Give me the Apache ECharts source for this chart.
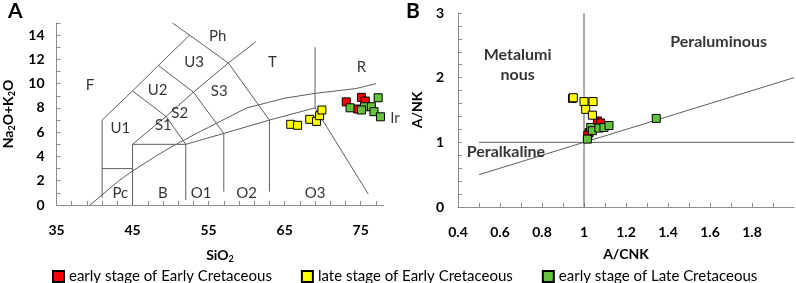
<!DOCTYPE html>
<html><head><meta charset="utf-8">
<script src="https://cdn.jsdelivr.net/npm/echarts@6/dist/echarts.min.js"></script>
<style>html,body{margin:0;padding:0;background:#fff}#c{width:796px;height:283px}</style>
</head><body><div id="c"></div>
<script>
// ---- Data ----
var groupNames = ['early stage of Early Cretaceous', 'late stage of Early Cretaceous', 'early stage of Late Cretaceous'];
// Chart A (TAS): [SiO2, Na2O+K2O]
var tasRed = [[73.1,8.5],[75.1,8.87],[75.6,8.57],[74.6,7.91]];
var tasYellow = [[65.8,6.65],[66.7,6.57],[68.3,7.06],[69.2,6.89],[69.6,7.36],[69.9,7.83]];
var tasGreen = [[73.6,8.01],[77.3,8.84],[75.5,8.1],[76.4,8.1],[76.75,7.69],[77.6,7.27],[75.1,7.83]];
// Chart B: [A/CNK, A/NK]
var acnkRed = [[1.064,1.33],[1.079,1.3],[1.024,1.15],[1.018,1.11]];
var acnkYellow = [[0.945,1.68],[0.949,1.69],[1.0,1.63],[1.043,1.63],[1.008,1.51],[1.04,1.42]];
var acnkGreen = [[1.032,1.23],[1.04,1.18],[1.071,1.22],[1.095,1.23],[1.119,1.26],[1.016,1.05],[1.344,1.37]];
// TAS field boundaries
var tasLines = [
  [[41,0.6],[41,7]],
  [[41,7],[45,9.4],[48.4,11.5],[52.5,14],[57.6,11.7],[63,7]],
  [[52.5,14],[50.25,15]],
  [[41,3],[45,3]],
  [[45,0],[45,5],[52,5],[52,0.4]],
  [[45,5],[49.4,7.3],[53,9.3],[57.6,11.7],[61.2,13.45]],
  [[45,9.4],[49.4,7.3],[52,5]],
  [[48.4,11.5],[53,9.3],[57,5.9]],
  [[52,5],[57,5.9],[63,7],[69,8]],
  [[57,1.1],[57,5.9]],
  [[63,1.1],[63,7]],
  [[69,8],[69,13]],
  [[69,8],[76,0.9]],
  [[39.4,0],[43.2,2],[45,2.8],[48,4],[50,4.75],[53.7,6],[55,6.4],[60,8],[65,8.8],[69,9.2],[74.4,9.6],[77,10]]
];
var tasFieldLabels = [['F',39.4,9.9],['Ph',56.2,13.9],['U3',53.1,11.8],['T',63.4,11.8],['R',75.1,11.4],['U2',48.3,9.45],['S3',56.4,9.35],['S2',51.2,7.55],['U1',43.4,6.3],['S1',49.05,6.6],['Ir',79.5,7.14],['Pc',43.4,1.0],['B',49.0,0.96],['O1',54.0,0.96],['O2',60.0,0.96],['O3',69.0,0.96]];
// Chart B boundaries
var acnkLines = [
  [[0.5,0.5],[2,2]],
  [[0.5,1],[2,1]],
  [[1,0],[1,3]]
];
var acnkFieldLabels = [['Metalumi',0.684,2.35],['nous',0.684,2.04],['Peraluminous',1.641,2.555],['Peralkaline',0.628,0.855]];

var colors = ['#ff0000','#ffff00','#66c23c'];
var FONT = 'Lato';
var lineGray = '#5e5e5e';
var axisGray = '#8c8c8c';

function lineSeries(lines, xi, yi){
  return lines.map(function(pts){
    return {type:'line', xAxisIndex:xi, yAxisIndex:yi, data:pts, symbol:'none', silent:true,
      lineStyle:{color:lineGray, width:1}, animation:false, z:1};
  });
}
function labelSeries(labels, xi, yi, size, weight){
  return {type:'scatter', xAxisIndex:xi, yAxisIndex:yi, symbolSize:0, silent:true, clip:false,
    data: labels.map(function(l){return {name:l[0], value:[l[1],l[2]]};}),
    label:{show:true, position:'inside', formatter:'{b}', color:'#000', fontFamily:FONT, fontSize:size, fontWeight:weight},
    animation:false, z:3};
}
function pointSeries(name, data, color, xi, yi){
  return {type:'scatter', name:name, xAxisIndex:xi, yAxisIndex:yi, data:data, symbol:'rect', symbolSize:8,
    itemStyle:{color:color, borderColor:'#000', borderWidth:1, opacity:1}, animation:false, z:5};
}
var tickLbl = {fontFamily:FONT, fontSize:14, fontWeight:'bold', color:'#000'};

var series = [].concat(
  lineSeries(tasLines,0,0),
  lineSeries(acnkLines,1,1),
  [labelSeries(tasFieldLabels,0,0,15,'normal'),
   labelSeries(acnkFieldLabels,1,1,16,'bold'),
   pointSeries(groupNames[0], tasRed, colors[0],0,0),
   pointSeries(groupNames[1], tasYellow, colors[1],0,0),
   pointSeries(groupNames[2], tasGreen, colors[2],0,0),
   pointSeries(groupNames[0], acnkRed, colors[0],1,1),
   pointSeries(groupNames[1], acnkYellow, colors[1],1,1),
   pointSeries(groupNames[2], acnkGreen, colors[2],1,1)]
);

var chart = echarts.init(document.getElementById('c'), null, {renderer:'canvas'});
chart.setOption({
  animation:false,
  backgroundColor:'#fff',
  grid:[
    {left:55, top:23, width:328.5, height:182},
    {left:458, top:13, width:336, height:194}
  ],
  xAxis:[
    {type:'value', gridIndex:0, min:35, max:78, interval:2,
     axisLine:{lineStyle:{color:axisGray}}, axisTick:{inside:true, length:4, lineStyle:{color:axisGray}},
     splitLine:{show:false},
     axisLabel:Object.assign({margin:18, showMaxLabel:false, formatter:function(v){return ((v-35)%10===0)?String(v):'';}}, tickLbl),
     name:'SiO{s|2}', nameLocation:'middle', nameGap:42,
     nameTextStyle:{fontFamily:FONT, fontSize:14, fontWeight:'bold', color:'#000', rich:{s:{fontFamily:FONT, fontSize:9, fontWeight:'bold', verticalAlign:'bottom', padding:[8,0,0,0]}}}},
    {type:'value', gridIndex:1, min:0.4, max:2, interval:0.1,
     axisLine:{lineStyle:{color:axisGray}}, axisTick:{inside:true, length:4, lineStyle:{color:axisGray}},
     splitLine:{show:false},
     axisLabel:Object.assign({margin:18, showMaxLabel:false, formatter:function(v){var r=Math.round(v*10); return (r%2===0 && r<20)?String(r/10):'';}}, tickLbl),
     name:'A/CNK', nameLocation:'middle', nameGap:40,
     nameTextStyle:{fontFamily:FONT, fontSize:14, fontWeight:'bold', color:'#000'}}
  ],
  yAxis:[
    {type:'value', gridIndex:0, min:0, max:15, interval:1,
     axisLine:{show:true, lineStyle:{color:axisGray}}, axisTick:{show:true, inside:true, length:4, lineStyle:{color:axisGray}},
     splitLine:{show:false},
     axisLabel:Object.assign({margin:12, formatter:function(v){return (v%2===0 && v<15)?String(v):'';}}, tickLbl),
     name:'Na{s|2}O+K{s|2}O', nameLocation:'middle', nameGap:40, nameRotate:90,
     nameTextStyle:{fontFamily:FONT, fontSize:14, fontWeight:'bold', color:'#000', rich:{s:{fontFamily:FONT, fontSize:9, fontWeight:'bold', verticalAlign:'bottom', padding:[8,0,0,0]}}}},
    {type:'value', gridIndex:1, min:0, max:3, interval:0.2,
     axisLine:{show:true, lineStyle:{color:axisGray}}, axisTick:{show:true, inside:true, length:4, lineStyle:{color:axisGray}},
     splitLine:{show:false},
     axisLabel:Object.assign({margin:14, formatter:function(v){var r=Math.round(v*10); return (r%10===0)?String(r/10):'';}}, tickLbl),
     name:'A/NK', nameLocation:'middle', nameGap:34, nameRotate:90,
     nameTextStyle:{fontFamily:FONT, fontSize:14, fontWeight:'bold', color:'#000'}}
  ],
  legend:{data:groupNames, left:47, top:264, itemWidth:11, itemHeight:11, itemGap:29,
    textStyle:{fontFamily:FONT, fontSize:15, color:'#000', padding:[0,0,0,0]}},
  graphic:[
    {type:'text', left:8, top:1, style:{text:'A', fontFamily:FONT, fontSize:21, fontWeight:'bold', fill:'#000'}},
    {type:'text', left:406, top:1, style:{text:'B', fontFamily:FONT, fontSize:21, fontWeight:'bold', fill:'#000'}}
  ],
  series:series
});
</script></body></html>
